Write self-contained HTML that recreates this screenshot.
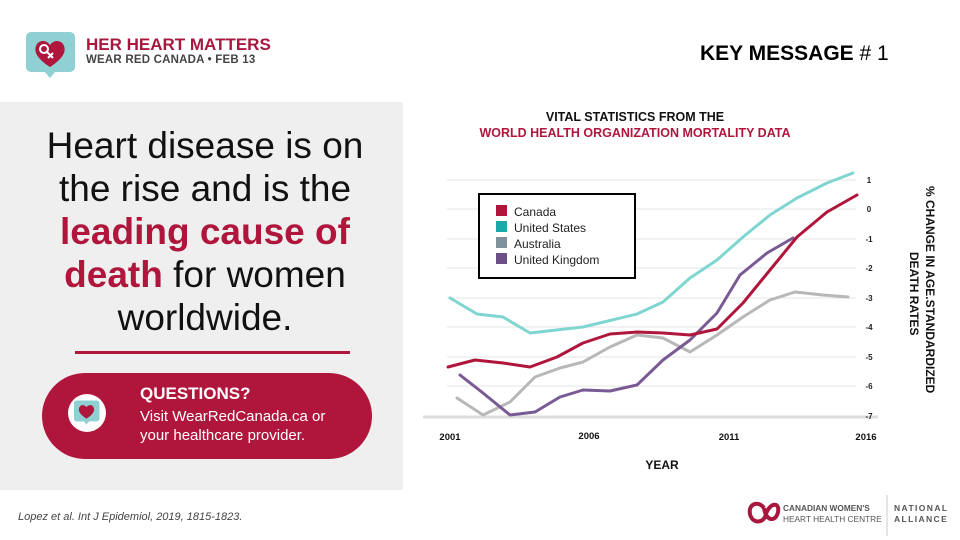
<!DOCTYPE html>
<html><head><meta charset="utf-8"><style>
body{margin:0;width:960px;height:540px;background:#fff;font-family:"Liberation Sans",sans-serif;position:relative;overflow:hidden}
.a{position:absolute}
</style></head><body>
<svg class="a" style="left:26px;top:31px" width="50" height="50" viewBox="0 0 50 50">
<rect x="0" y="1" width="49" height="40" rx="5" fill="#8fd0d3"/><polygon points="18,40 30,40 24,47" fill="#8fd0d3"/>
<path d="M24 36 C10 27 8 20 10 15 C12 9 20 8 24 14 C28 8 36 9 38 15 C40 20 38 27 24 36Z" fill="#b0163c"/>
<circle cx="18" cy="18" r="4" fill="none" stroke="#fff" stroke-width="2"/><line x1="21" y1="21" x2="27" y2="27" stroke="#fff" stroke-width="2"/><line x1="22" y1="27" x2="27" y2="22" stroke="#fff" stroke-width="2"/>
</svg>
<div class="a" style="left:86px;top:35px;font-size:17px;font-weight:bold;color:#a8183e">HER HEART MATTERS</div>
<div class="a" style="left:86px;top:54px;font-size:11.5px;font-weight:bold;color:#444;letter-spacing:0.2px">WEAR RED CANADA • FEB 13</div>
<div class="a" style="left:700px;top:42px;font-size:21px;font-weight:bold;color:#000">KEY MESSAGE <span style="font-weight:normal"># 1</span></div>
<div class="a" style="left:0;top:102px;width:403px;height:388px;background:#efefef"></div>
<div class="a" style="left:35px;top:124px;width:340px;text-align:center;font-size:37px;line-height:43px;color:#111">Heart disease is on the rise and is the <b style="color:#b0163c">leading cause of death</b> for women worldwide.</div>
<div class="a" style="left:75px;top:351px;width:275px;height:3px;background:#b0163c"></div>
<div class="a" style="left:42px;top:373px;width:330px;height:86px;border-radius:43px;background:#b0163c"></div>
<div class="a" style="left:68px;top:394px;width:38px;height:38px;border-radius:50%;background:#fff"></div>
<svg class="a" style="left:74px;top:400px" width="26" height="26" viewBox="0 0 50 50"><rect x="0" y="1" width="49" height="40" rx="5" fill="#8fd0d3"/><polygon points="18,40 30,40 24,47" fill="#8fd0d3"/><path d="M24 36 C10 27 8 20 10 15 C12 9 20 8 24 14 C28 8 36 9 38 15 C40 20 38 27 24 36Z" fill="#b0163c"/></svg>
<div class="a" style="left:140px;top:384px;font-size:17px;font-weight:bold;color:#fff">QUESTIONS?</div>
<div class="a" style="left:140px;top:407px;font-size:15px;line-height:19px;color:#fff">Visit WearRedCanada.ca or<br>your healthcare provider.</div>
<div class="a" style="left:18px;top:511px;font-size:11px;font-style:italic;color:#444">Lopez et al. Int J Epidemiol, 2019, 1815-1823.</div>
<div class="a" style="left:430px;top:109px;width:410px;text-align:center;font-size:12.5px;font-weight:bold;line-height:16px;color:#111">VITAL STATISTICS FROM THE<br><span style="color:#b0163c">WORLD HEALTH ORGANIZATION MORTALITY DATA</span></div>
<svg class="a" style="left:0;top:0" width="960" height="540">
<g stroke="#e6e6e6" stroke-width="1">
<line x1="447" y1="180" x2="856" y2="180"/><line x1="447" y1="209" x2="856" y2="209"/><line x1="447" y1="239" x2="856" y2="239"/><line x1="447" y1="268" x2="856" y2="268"/><line x1="447" y1="298" x2="856" y2="298"/><line x1="447" y1="327" x2="856" y2="327"/><line x1="447" y1="357" x2="856" y2="357"/><line x1="447" y1="386" x2="856" y2="386"/></g>
<line x1="423" y1="417" x2="878" y2="417" stroke="#ddd" stroke-width="3"/>
<g font-size="8" font-weight="bold" fill="#222" text-anchor="middle">
<text x="869" y="183">1</text><text x="869" y="212">0</text><text x="869" y="242">-1</text><text x="869" y="271">-2</text><text x="869" y="301">-3</text><text x="869" y="330">-4</text><text x="869" y="360">-5</text><text x="869" y="389">-6</text><text x="869" y="419">-7</text></g>
<g font-size="9.5" font-weight="bold" fill="#111" text-anchor="middle">
<text x="450" y="440">2001</text><text x="589" y="439">2006</text><text x="729" y="440">2011</text><text x="866" y="440">2016</text></g>
<text x="662" y="469" font-size="12" font-weight="bold" text-anchor="middle" fill="#111">YEAR</text>
<text transform="translate(926,186) rotate(90)" font-size="12" font-weight="bold" fill="#111">% CHANGE  IN AGE.STANDARDIZED</text>
<text transform="translate(910,252) rotate(90)" font-size="12" font-weight="bold" fill="#111">DEATH RATES</text>
<g fill="none" stroke-width="3" stroke-linejoin="round" stroke-linecap="round">
<polyline stroke="#7fd6d0" points="450,298 477,314 503,317 530,333 583,327 637,314 663,302 690,278 717,260 743,237 770,215 797,198 827,183 853,173"/>
<polyline stroke="#b8b8b8" points="457,398 483,415 510,402 535,377 560,368 583,362 610,347 637,335 663,338 690,352 717,335 743,317 770,300 795,292 823,295 848,297"/>
<polyline stroke="#7a5a94" points="460,375 483,393 510,415 535,412 560,397 583,390 610,391 637,385 663,360 690,340 717,313 740,275 767,253 793,238"/>
<polyline stroke="#b0163c" points="448,367 475,360 503,363 530,367 557,357 583,343 610,334 637,332 663,333 690,335 717,329 743,303 770,270 797,237 827,212 857,195"/>
</g>
<rect x="479" y="194" width="156" height="84" fill="#fff" stroke="#000" stroke-width="2"/>
<rect x="496" y="205" width="11" height="11" fill="#b0163c"/><rect x="496" y="221" width="11" height="11" fill="#1aa8a8"/><rect x="496" y="237" width="11" height="11" fill="#7f929c"/><rect x="496" y="253" width="11" height="11" fill="#6b4f86"/>
<g font-size="12" fill="#222"><text x="514" y="216">Canada</text><text x="514" y="232">United States</text><text x="514" y="248">Australia</text><text x="514" y="264">United Kingdom</text></g>
<path d="M764 508 C758 500 748 504 750 514 C752 524 764 524 766 514 M766 514 C770 502 780 502 778 512 C776 522 766 522 764 508" fill="none" stroke="#a8183e" stroke-width="4"/>
<line x1="887" y1="495" x2="887" y2="536" stroke="#ccc"/>
</svg>
<div class="a" style="left:783px;top:503px;font-size:8.3px;font-weight:bold;color:#555;line-height:11px">CANADIAN WOMEN'S<br><span style="font-weight:normal">HEART HEALTH CENTRE</span></div>
<div class="a" style="left:894px;top:503px;font-size:8.5px;font-weight:bold;color:#555;line-height:11px;letter-spacing:1.4px">NATIONAL<br>ALLIANCE</div>
</body></html>
